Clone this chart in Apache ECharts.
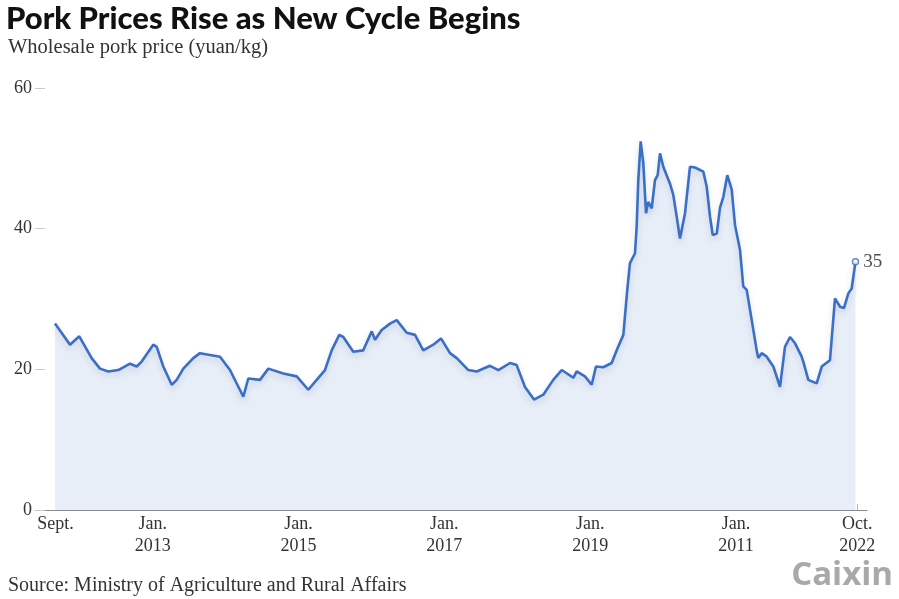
<!DOCTYPE html>
<html>
<head>
<meta charset="utf-8">
<script src="https://cdn.jsdelivr.net/npm/echarts@6/dist/echarts.min.js"></script>
<style>
html,body{margin:0;padding:0;background:#fff;}
#chart{width:899px;height:599px;}
</style>
</head>
<body>
<div id="chart"></div>
<script>
// Time expressed as decimal year
var years = [
  2011.660, 2011.866, 2011.993, 2012.163, 2012.277, 2012.391, 2012.528, 2012.689, 2012.781, 2012.849,
  2013.008, 2013.055, 2013.145, 2013.261, 2013.329, 2013.420, 2013.557, 2013.649, 2013.923, 2014.060,
  2014.243, 2014.311, 2014.472, 2014.586, 2014.791, 2014.975, 2015.134, 2015.249, 2015.363, 2015.455,
  2015.559, 2015.614, 2015.751, 2015.888, 2016.004, 2016.049, 2016.141, 2016.255, 2016.347, 2016.484,
  2016.598, 2016.711, 2016.849, 2016.954, 2017.078, 2017.170, 2017.329, 2017.444, 2017.626, 2017.740,
  2017.901, 2017.992, 2018.106, 2018.230, 2018.357, 2018.494, 2018.610, 2018.769, 2018.815, 2018.929,
  2019.021, 2019.080, 2019.180, 2019.295, 2019.364, 2019.455, 2019.509, 2019.546, 2019.615, 2019.638,
  2019.660, 2019.693, 2019.729, 2019.766, 2019.797, 2019.844, 2019.889, 2019.926, 2019.958, 2020.003,
  2020.095, 2020.140, 2020.187, 2020.232, 2020.301, 2020.369, 2020.438, 2020.552, 2020.598, 2020.644,
  2020.681, 2020.736, 2020.781, 2020.826, 2020.881, 2020.941, 2020.987, 2021.055, 2021.100, 2021.147,
  2021.216, 2021.284, 2021.306, 2021.353, 2021.421, 2021.512, 2021.604, 2021.672, 2021.741, 2021.810,
  2021.901, 2021.923, 2021.992, 2022.107, 2022.176, 2022.289, 2022.358, 2022.427, 2022.481, 2022.541,
  2022.587, 2022.639
];
var prices = [
  26.5, 23.5, 24.7, 21.6, 20.1, 19.7, 19.9, 20.8, 20.4, 21.1,
  23.5, 23.2, 20.4, 17.8, 18.5, 20.1, 21.6, 22.3, 21.8, 19.9,
  16.1, 18.7, 18.5, 20.1, 19.4, 19.0, 17.1, 18.5, 19.9, 22.7,
  24.9, 24.6, 22.5, 22.7, 25.4, 24.2, 25.6, 26.5, 27.0, 25.2,
  24.9, 22.7, 23.5, 24.4, 22.3, 21.6, 19.9, 19.7, 20.5, 19.9,
  20.9, 20.6, 17.5, 15.7, 16.4, 18.5, 19.9, 18.8, 19.7, 19.0,
  17.8, 20.4, 20.3, 20.9, 22.7, 24.9, 31.3, 35.1, 36.5, 40.3,
  46.9, 52.4, 49.3, 42.2, 43.8, 42.9, 46.9, 47.6, 50.7, 48.8,
  46.4, 44.8, 41.7, 38.6, 42.2, 48.8, 48.7, 48.1, 46.0, 41.7,
  39.1, 39.3, 43.0, 44.5, 47.6, 45.6, 40.5, 37.0, 31.8, 31.3,
  27.0, 22.7, 21.6, 22.3, 21.8, 20.4, 17.5, 23.2, 24.6, 23.7,
  21.8, 21.1, 18.5, 18.0, 20.4, 21.3, 30.1, 28.9, 28.7, 30.8,
  31.5, 35.3
];
var tickValues = [2011.667, 2013, 2015, 2017, 2019, 2021, 2022.664];
var tickLabels = ['Sept.', 'Jan.\n2013', 'Jan.\n2015', 'Jan.\n2017', 'Jan.\n2019', 'Jan.\n2011', 'Oct.\n2022'];
var yTicks = [0, 20, 40, 60];

var lineData = years.map(function (y, i) { return [y, prices[i]]; });
var last = lineData[lineData.length - 1];

var chart = echarts.init(document.getElementById('chart'));
chart.setOption({
  animation: false,
  backgroundColor: '#ffffff',
  title: [
    { text: 'Pork Prices Rise as New Cycle Begins', left: 6, top: 3, padding: 0,
      textStyle: { fontFamily: 'Lato', fontWeight: 900, fontSize: 31, color: '#111' } },
    { text: 'Wholesale pork price (yuan/kg)', left: 8, top: 37, padding: 0,
      textStyle: { fontFamily: 'Liberation Serif', fontWeight: 'normal', fontSize: 20.5, color: '#333' } },
    { text: 'Source: Ministry of Agriculture and Rural Affairs', left: 8, top: 576, padding: 0,
      textStyle: { fontFamily: 'Liberation Serif', fontWeight: 'normal', fontSize: 20, color: '#333' } },
    { text: 'Caixin', right: 6, top: 559, padding: 0,
      textStyle: { fontFamily: 'Open Sans', fontWeight: 'bold', fontSize: 33, color: '#a9a9a9' } }
  ],
  grid: { left: 35, right: 32, top: 88, bottom: 89 },
  xAxis: {
    type: 'value',
    min: 2011.3857,
    max: 2022.797,
    splitLine: { show: false },
    axisLine: { show: true, lineStyle: { color: '#8a8a8a', width: 1 } },
    axisTick: { show: true, inside: true, length: 6, customValues: tickValues, lineStyle: { color: '#b5b5b5' } },
    axisLabel: {
      customValues: tickValues,
      formatter: function (v) {
        for (var i = 0; i < tickValues.length; i++) {
          if (Math.abs(tickValues[i] - v) < 0.01) return tickLabels[i];
        }
        return '';
      },
      fontFamily: 'Liberation Serif', fontSize: 18, color: '#333', lineHeight: 22, margin: 3
    }
  },
  yAxis: {
    type: 'value', min: 0, max: 60, interval: 20,
    splitLine: { show: false },
    axisLine: { show: false },
    axisTick: { show: true, inside: true, length: 10, lineStyle: { color: '#c8c8c8' } },
    axisLabel: { fontFamily: 'Liberation Serif', fontSize: 18, color: '#333', margin: 3,
      customValues: yTicks }
  },
  series: [{
    type: 'line',
    data: lineData,
    showSymbol: false,
    symbol: 'none',
    lineStyle: { color: '#3b6fc5', width: 2.6, shadowColor: 'rgba(40,60,100,0.18)', shadowBlur: 6, shadowOffsetY: 3 },
    areaStyle: { color: '#e8eef8', opacity: 1 },
    z: 3
  }, {
    type: 'scatter',
    data: [last],
    symbol: 'circle',
    symbolSize: 6,
    itemStyle: { color: '#ffffff', borderColor: '#3b6fc5', borderWidth: 1.5 },
    label: {
      show: true, position: 'right', distance: 4,
      formatter: function (p) { return Math.round(p.value[1]); },
      fontFamily: 'Liberation Serif', fontSize: 19, color: '#222'
    },
    z: 4
  }]
});
</script>
</body>
</html>
